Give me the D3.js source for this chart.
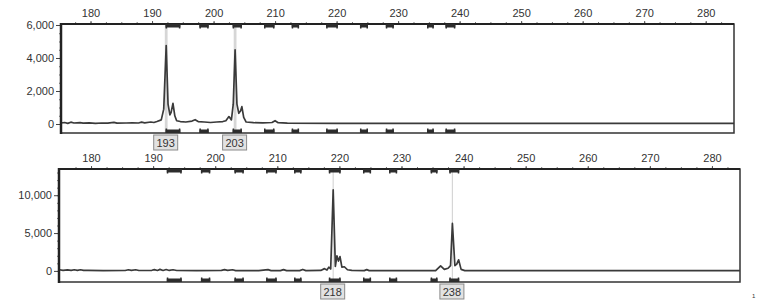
<!DOCTYPE html>
<html><head><meta charset="utf-8">
<script src="https://cdn.jsdelivr.net/npm/d3@7"></script>
<style>body{margin:0;background:#fff}svg{display:block}text{font-family:"Liberation Sans",Arial,sans-serif;fill:#333}</style>
</head><body><svg id="c" width="771" height="308"></svg>
<script>
// ---- data ----
const bpTicks = [180,190,200,210,220,230,240,250,260,270,280];
const topYTicks = [0,2000,4000,6000];
const bottomYTicks = [0,5000,10000];
const bins = [[192.2,194.6],[197.7,199.2],[203.1,204.6],[208.2,209.9],[212.7,213.9],[218.3,220.2],[223.8,225.1],[228.0,229.3],[234.7,235.8],[237.7,239.3]];
const topTrace = [[175.2,60],[175.8,90],[176.3,40],[176.8,110],[177.3,60],[178.3,80],[178.8,50],[179.8,70],[180.8,40],[181.8,60],[182.8,50],[183.8,100],[184.3,50],[185.8,60],[186.8,70],[187.8,60],[188.3,110],[188.8,70],[189.8,120],[190.3,90],[190.8,150],[191.5,250],[191.9,900],[192.3,4750],[192.6,1200],[192.9,550],[193.1,700],[193.4,1250],[193.7,500],[194.0,200],[194.6,150],[195.5,120],[196.5,180],[197.0,260],[197.5,150],[198.5,120],[199.5,90],[200.5,120],[201.5,150],[202.0,200],[202.5,450],[202.9,250],[203.2,1200],[203.5,4500],[203.8,1200],[204.1,650],[204.4,800],[204.6,1050],[204.9,400],[205.3,120],[206.5,80],[208.0,70],[209.5,90],[210.0,200],[210.5,80],[212.0,50],[220.0,40],[240.0,40],[260.0,40],[284.6,40]];
const bottomTrace = [[174.9,150],[175.5,80],[176.2,140],[176.8,60],[177.3,150],[177.8,70],[178.3,150],[178.8,60],[179.5,60],[182,40],[185.5,50],[186.0,150],[186.5,60],[187.2,150],[187.7,50],[189.8,80],[190.2,170],[190.7,60],[191.1,200],[191.6,60],[192.1,180],[192.6,60],[193.2,150],[193.8,50],[197,40],[201.0,60],[201.5,160],[202.0,60],[202.8,150],[203.3,40],[207,40],[208.5,160],[209,40],[210.5,40],[211.0,170],[211.5,40],[213.6,40],[214.1,190],[214.6,40],[217.0,60],[217.6,300],[218.0,120],[218.3,500],[218.6,250],[219.0,10700],[219.35,600],[219.6,2000],[219.85,1300],[220.1,1900],[220.4,500],[220.8,550],[221.3,150],[222,60],[224.0,40],[224.4,170],[224.8,40],[230,30],[235.5,40],[236.3,670],[236.9,200],[237.5,350],[237.9,700],[238.2,6270],[238.6,700],[238.9,900],[239.2,1470],[239.6,200],[240.2,40],[260,30],[284.5,30]];
const topCalls = [{label:"193", bp:192.3},{label:"203", bp:203.5}];
const bottomCalls = [{label:"218", bp:219.0},{label:"238", bp:238.2}];

// ---- layout ----
const svg = d3.select("#c");
const panels = [
  {x0:61, x1:734, y0:24, y1:133, xdom:[175.2,284.6], ydom:[-545,6060], yticks:topYTicks, ymin:500, trace:topTrace, calls:topCalls, callW:2.8},
  {x0:59, x1:740, y0:169, y1:282, xdom:[174.84,284.52], ydom:[-1467,13467], yticks:bottomYTicks, ymin:1000, trace:bottomTrace, calls:bottomCalls, callW:1.2}
];
const fmt = d3.format(",");

panels.forEach(p => {
  const x = d3.scaleLinear().domain(p.xdom).range([p.x0,p.x1]);
  const y = d3.scaleLinear().domain(p.ydom).range([p.y1,p.y0]);
  const g = svg.append("g");

  // peak call lines
  p.calls.forEach(c => {
    g.append("line").attr("x1",x(c.bp)).attr("x2",x(c.bp)).attr("y1",p.y0).attr("y2",p.y1)
      .attr("stroke","#d6d6d6").attr("stroke-width",p.callW);
  });

  // minor x ticks (top)
  const minorX = d3.range(177.5, 284, 2.5);
  g.append("g").attr("transform",`translate(0,${p.y0})`)
    .call(d3.axisTop(x).tickValues(minorX).tickSize(2).tickFormat(""))
    .call(a=>a.select(".domain").remove()).selectAll("line").attr("stroke","#777");
  // major x axis
  const xa = g.append("g").attr("transform",`translate(0,${p.y0})`)
    .call(d3.axisTop(x).tickValues(bpTicks).tickSize(3).tickPadding(4));
  xa.select(".domain").remove();
  xa.selectAll("line").attr("stroke","#555");
  xa.selectAll("text").attr("font-size",11).attr("fill","#333");

  // y minor ticks
  const minorY = d3.range(0, p.ydom[1], p.ymin);
  g.append("g").attr("transform",`translate(${p.x0},0)`)
    .call(d3.axisLeft(y).tickValues(minorY).tickSize(2).tickFormat(""))
    .call(a=>a.select(".domain").remove()).selectAll("line").attr("stroke","#777");
  const ya = g.append("g").attr("transform",`translate(${p.x0},0)`)
    .call(d3.axisLeft(y).tickValues(p.yticks).tickSize(5).tickPadding(2).tickFormat(fmt));
  ya.select(".domain").remove();
  ya.selectAll("line").attr("stroke","#444");
  ya.selectAll("text").attr("font-size",11).attr("fill","#333");

  // trace
  g.append("path").datum(p.trace)
    .attr("d", d3.line().x(d=>x(d[0])).y(d=>y(d[1])))
    .attr("fill","none").attr("stroke","#3a3a3a").attr("stroke-width",1.7).attr("stroke-linejoin","round");

  // frame
  g.append("rect").attr("x",p.x0).attr("y",p.y0).attr("width",p.x1-p.x0).attr("height",p.y1-p.y0)
    .attr("fill","none").attr("stroke","#333").attr("stroke-width",1.5);
  g.append("line").attr("x1",p.x0).attr("x2",p.x0).attr("y1",p.y0-1).attr("y2",p.y1+1)
    .attr("stroke","#222").attr("stroke-width",2.5);
  g.append("line").attr("x1",p.x0).attr("x2",p.x1).attr("y1",p.y0).attr("y2",p.y0)
    .attr("stroke","#222").attr("stroke-width",2.2);

  // bin markers (top and bottom)
  [[p.y0, 1],[p.y1, -1]].forEach(([yy, dir]) => {
    bins.forEach(b => {
      const xa0 = x(b[0]), xa1 = x(b[1]);
      const yA = dir>0 ? yy : yy-4.5;
      g.append("rect").attr("x",xa0).attr("y",dir>0? yy : yy-3.5).attr("width",xa1-xa0).attr("height",3.5).attr("fill","#2d2d2d");
      g.append("rect").attr("x",xa0).attr("y",yA).attr("width",1.5).attr("height",4.5).attr("fill","#2d2d2d");
      g.append("rect").attr("x",xa1-1.5).attr("y",yA).attr("width",1.5).attr("height",4.5).attr("fill","#2d2d2d");
    });
  });

  // call labels
  p.calls.forEach(c => {
    const cx = x(c.bp)-0.5;
    g.append("rect").attr("x",cx-12).attr("y",p.y1+2).attr("width",24).attr("height",15)
      .attr("fill","#e2e2e2").attr("stroke","#8a8a8a").attr("stroke-width",1);
    g.append("text").attr("x",cx).attr("y",p.y1+14).attr("text-anchor","middle")
      .attr("font-size",11).attr("fill","#333").text(c.label);
  });
});

svg.append("text").attr("x",752).attr("y",298).attr("font-size",6).attr("fill","#555").text("1");
</script></body></html>
